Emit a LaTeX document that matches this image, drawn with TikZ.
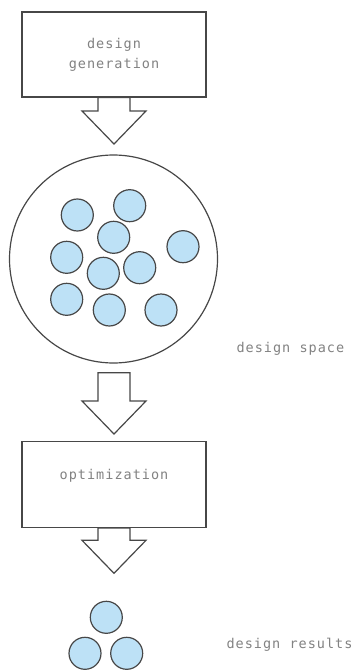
\documentclass[tikz,border=0pt]{standalone}
\usepackage{fontspec}
\newfontfamily\captionfont[LetterSpace=7.5]{DejaVu Sans Mono}
\usetikzlibrary{positioning}
\definecolor{linegray}{HTML}{474747}
\definecolor{textgray}{HTML}{828282}
\definecolor{bubble}{HTML}{BDE1F6}
\tikzset{
  stagebox/.style={draw=linegray, line width=1.2pt, fill=white, minimum width=184pt, minimum height=85pt, align=center, inner sep=0pt},
  caption/.style={text=textgray, font=\captionfont\fontsize{13.5}{20}\selectfont},
  bubble/.style={circle, draw=linegray, line width=1.2pt, fill=bubble, minimum size=32pt, inner sep=0pt},
  arrowline/.style={draw=linegray, line width=1.2pt, fill=white, line join=miter}
}
% hollow block arrow: #1 start on the upper shape, #2 tip
\newcommand{\blockarrow}[2]{%
  \draw[arrowline] ([xshift=-16pt]#1) -- ([xshift=-16pt,yshift=33pt]#2)
    -- ([xshift=-32pt,yshift=33pt]#2) -- (#2)
    -- ([xshift=32pt,yshift=33pt]#2) -- ([xshift=16pt,yshift=33pt]#2)
    -- ([xshift=16pt]#1) -- cycle;}
\begin{document}
\begin{tikzpicture}[x=1pt, y=-1pt]
	\useasboundingbox (0,0) rectangle (355,671);
	% first stage
	\node[stagebox, caption] (gen) at (114,54.5) {design\\generation};
	\coordinate (tip1) at (114,144);
	\blockarrow{gen.south}{tip1}
	% design space with candidate designs
	\node[circle, draw=linegray, line width=1.2pt, minimum size=208pt] (space) at (113.5,259) {};
	\foreach \n/\x/\y in {1/77.3/215, 2/129.7/205.7, 3/113.7/237.3, 4/183/246.7, 5/66.7/257.3,
		6/103.3/273.3, 7/139.7/267.7, 8/66.7/299.3, 9/109.3/310, 10/161/310}
		\node[bubble] (d\n) at (\x,\y) {};
	\node[caption, anchor=west] (spacelabel) at (233,349) {design space};
	% optimization
	\coordinate (start2) at (114,372.7);
	\coordinate (tip2) at (114,434);
	\blockarrow{start2}{tip2}
	\node[stagebox, caption, minimum height=86pt] (opt) at (114,484.5) {optimization\\\mbox{}};
	\coordinate (tip3) at (114,573.3);
	\blockarrow{opt.south}{tip3}
	% results
	\node[bubble] (r1) at (106.3,617.3) {};
	\node[bubble] (r2) at (85,653.3) {};
	\node[bubble] (r3) at (126.7,653.3) {};
	\node[caption, anchor=west] (resultlabel) at (223,645) {design results};
\end{tikzpicture}
\end{document}
